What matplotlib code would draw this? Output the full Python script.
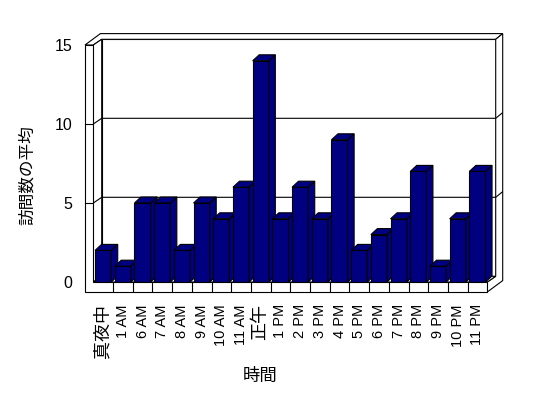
import matplotlib
matplotlib.use("Agg")
import matplotlib.pyplot as plt
import numpy as np
from matplotlib.patches import Polygon

plt.rcParams['font.family'] = ['Liberation Sans', 'Noto Sans CJK JP']

hours = ['真夜中', '1 AM', '6 AM', '7 AM', '8 AM', '9 AM', '10 AM', '11 AM',
         '正午', '1 PM', '2 PM', '3 PM', '4 PM', '5 PM', '6 PM', '7 PM',
         '8 PM', '9 PM', '10 PM', '11 PM']
visits = [2, 1, 5, 5, 2, 5, 4, 6, 14, 4, 6, 4, 9, 2, 3, 4, 7, 1, 4, 7]
y_ticks = [0, 5, 10, 15]

navy = '#000080'
lw = 0.8

fig = plt.figure(figsize=(5.48, 3.98), dpi=100)
ax = fig.add_axes([93.3 / 548, 116 / 398, 394 / 548, 237 / 398])
n = len(hours)
top = y_ticks[-1]
ax.set_xlim(0, n)
ax.set_ylim(0, top)

# pixel -> data units
sx = n / 394
sy = top / 237
dx, dy = 8.4 * sx, 5.7 * sy      # depth of floor / side wall
bx, by = 7 * sx, 5.7 * sy        # thickness of back wall
tw = 8.3 * sx                    # side wall thickness
tf = 10 * sy                     # floor thickness
cx, cy = 6.5 * sx, 6 * sy        # bar depth
w = 0.82


def poly(pts, fc='white', z=1):
    ax.add_patch(Polygon(pts, closed=True, facecolor=fc, edgecolor='black',
                         lw=lw, clip_on=False, zorder=z, joinstyle='miter'))


def line(xs, ys, z=1.5):
    ax.plot(xs, ys, color='black', lw=lw, clip_on=False, zorder=z,
            solid_capstyle='butt')


# walls
poly([(dx, dy), (n + dx, dy), (n + dx, top + dy), (dx, top + dy)])
poly([(-tw, top), (0, top), (dx, top + dy), (n + dx, top + dy),
      (n + dx + bx, top + dy + by), (-tw + dx + bx, top + dy + by)])
poly([(n, 0), (n, -tf), (n + dx + bx, -tf + dy + by),
      (n + dx + bx, top + dy + by), (n + dx, top + dy), (n + dx, dy)])
poly([(0, 0), (0, top), (dx, top + dy), (dx, dy)])
poly([(0, 0), (n, 0), (n + dx, dy), (dx, dy)])

for v in y_ticks[1:-1]:
    line([0, dx, n + dx, n + dx + bx], [v, v + dy, v + dy, v + dy + by])

# bars
for i, v in enumerate(visits):
    z = 2 + i * 0.01
    x0 = i + 0.5 - w / 2
    x1 = x0 + w
    ax.bar(i + 0.5, v, w, color=navy, edgecolor='black', lw=lw, zorder=z)
    poly([(x1, 0), (x1 + cx, cy), (x1 + cx, v + cy), (x1, v)], navy, z)
    poly([(x0, v), (x1, v), (x1 + cx, v + cy), (x0 + cx, v + cy)], navy, z)

# front face of wall and floor
poly([(-tw, -tf), (n, -tf), (n, 0), (0, 0), (0, top), (-tw, top)], z=3)
for v in y_ticks[1:-1]:
    line([-tw, 0], [v, v], z=3.1)
for i in range(1, n):
    line([i, i], [0, -tf], z=3.1)

ax.set_xticks(np.arange(n) + 0.5, hours, rotation=90, fontsize=10.5)
ax.set_yticks(y_ticks, [str(t) for t in y_ticks], fontsize=11.5)
ax.tick_params(axis='x', length=0, pad=16)
ax.tick_params(axis='y', length=0, pad=15)
for lbl in ax.get_xticklabels():
    if not lbl.get_text().isascii():
        lbl.set_fontsize(13)
for s in ax.spines.values():
    s.set_visible(False)
ax.patch.set_visible(False)

fig.text(27 / 548, 1 - 175 / 398, '訪問数の平均', rotation=90,
         ha='center', va='center', fontsize=12)
fig.text(260 / 548, 1 - 376 / 398, '時間', ha='center', va='center',
         fontsize=12.5)

fig.savefig('out.png', dpi=100)
